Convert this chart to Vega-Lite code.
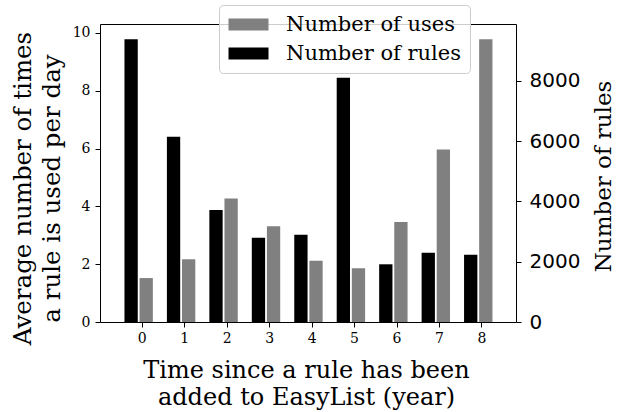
{
  "$schema": "https://vega.github.io/schema/vega-lite/v6.json",
  "width": 416,
  "height": 298,
  "autosize": {"type": "none"},
  "padding": {"left": 100, "top": 24, "right": 105, "bottom": 90},
  "background": "white",
  "config": {
    "view": {"stroke": "black", "strokeWidth": 1},
    "font": "DejaVu Serif",
    "axis": {"grid": false, "domain": false, "tickColor": "black", "tickSize": 5, "tickWidth": 1, "labelColor": "black", "titleColor": "black", "titleFontWeight": "normal", "labelFont": "DejaVu Serif", "titleFont": "DejaVu Serif"}
  },
  "data": {
    "values": [
      {"year": 0, "uses": 1.52, "rules": 9376},
      {"year": 1, "uses": 2.17, "rules": 6146},
      {"year": 2, "uses": 4.27, "rules": 3715},
      {"year": 3, "uses": 3.31, "rules": 2796},
      {"year": 4, "uses": 2.12, "rules": 2896},
      {"year": 5, "uses": 1.86, "rules": 8103},
      {"year": 6, "uses": 3.46, "rules": 1914},
      {"year": 7, "uses": 5.97, "rules": 2299},
      {"year": 8, "uses": 9.78, "rules": 2232}
    ]
  },
  "encoding": {
    "x": {
      "field": "year", "type": "quantitative",
      "scale": {"domain": [-0.867, 8.697], "nice": false, "zero": false},
      "axis": {
        "values": [0, 1, 2, 3, 4, 5, 6, 7, 8], "format": "d",
        "labelFontSize": 14, "labelPadding": 4, "labelFlush": false,
        "title": ["Time since a rule has been", "added to EasyList (year)"],
        "titleFontSize": 24, "titleLineHeight": 27,
        "titleX": 206, "titleY": 55, "titleAlign": "center", "titleBaseline": "alphabetic", "titleAnchor": null
      }
    }
  },
  "layer": [
    {
      "mark": {"type": "bar", "width": 13.3, "xOffset": -10.7},
      "encoding": {
        "y": {
          "field": "rules", "type": "quantitative",
          "scale": {"domain": [0, 9884], "nice": false},
          "axis": {
            "orient": "right", "values": [0, 2000, 4000, 6000, 8000], "format": "d",
            "labelFont": "DejaVu Sans", "labelFontSize": 20, "labelPadding": 8,
            "title": "Number of rules", "titleFontSize": 23, "titleAngle": 270,
            "titleX": 87, "titleY": 152, "titleAlign": "center", "titleBaseline": "middle"
          }
        },
        "color": {"datum": "Number of rules", "type": "nominal"}
      }
    },
    {
      "mark": {"type": "bar", "width": 13.3, "xOffset": 4.4},
      "encoding": {
        "y": {
          "field": "uses", "type": "quantitative",
          "scale": {"domain": [0, 10.31], "nice": false},
          "axis": {
            "orient": "left", "values": [0, 2, 4, 6, 8, 10], "format": "d",
            "labelFontSize": 14, "labelPadding": 5,
            "title": ["Average number of times", "a rule is used per day"],
            "titleFontSize": 24.5, "titleLineHeight": 29, "titleAngle": 270,
            "titleX": -77, "titleY": 164, "titleAlign": "center", "titleBaseline": "middle"
          }
        },
        "color": {
          "datum": "Number of uses", "type": "nominal",
          "scale": {"domain": ["Number of uses", "Number of rules"], "range": ["#808080", "#000000"]},
          "legend": {
            "title": null, "orient": "none", "legendX": 119, "legendY": -19,
            "symbolType": "M-1,-0.6H3V0.6H-1Z", "symbolSize": 400, "symbolStrokeWidth": 0, "symbolOpacity": 1,
            "labelFont": "DejaVu Serif", "labelFontSize": 21, "labelColor": "black", "labelOffset": 37, "labelLimit": 400,
            "rowPadding": 7, "padding": 9, "strokeColor": "#cccccc", "cornerRadius": 4, "fillColor": "rgba(255,255,255,0.8)"
          }
        }
      }
    }
  ],
  "resolve": {"scale": {"y": "independent"}}
}
